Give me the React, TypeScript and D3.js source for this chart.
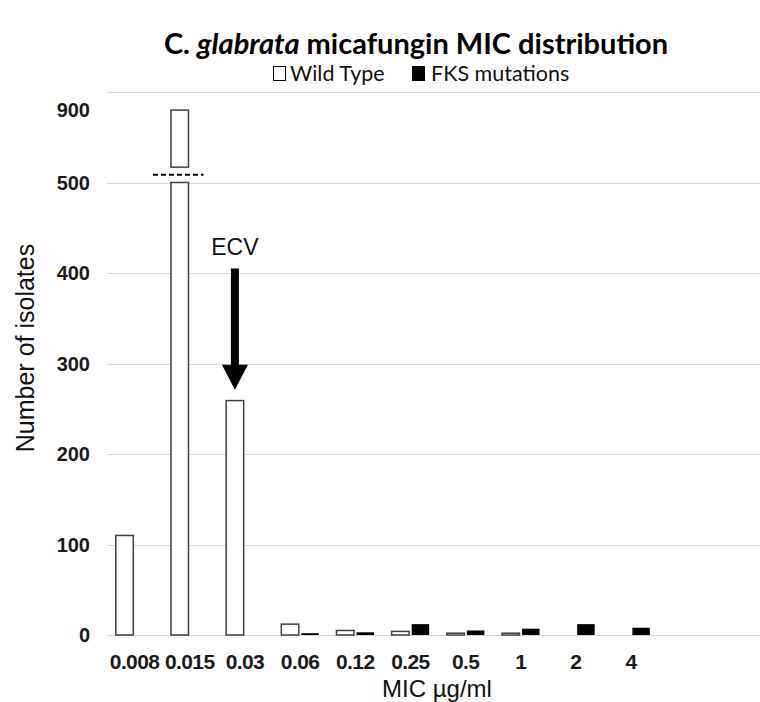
import React, { useEffect, useRef } from 'react';
import * as d3 from 'd3';

// MIC categories (µg/ml); two empty slots at the end like the original sheet
const micLabels = ['0.008', '0.015', '0.03', '0.06', '0.12', '0.25', '0.5', '1', '2', '4', '', ' '];
const wildType = [110, 900, 259, 12, 5, 4, 2, 2, 0, 0, 0, 0];
const fksMutations = [0, 0, 0, 2, 3, 12, 5, 7, 12, 8, 0, 0];
const yTickValues = [0, 100, 200, 300, 400, 500, 900];
const gridValues = [0, 100, 200, 300, 400, 500, 600];

// broken axis: values between 500 and 837 are cut out
const breakLow = 500;
const breakHigh = 837;
const breakGap = 17;
const ecvCategory = '0.03';
const ecvArrowTop = 405;

const W = 760;
const H = 702;

const App = () => {
    const svgRef = useRef<SVGSVGElement>(null);

    useEffect(() => {
        document.body.style.margin = '0';
        const svg = d3.select(svgRef.current);
        svg.selectAll('*').remove();

        const margin = { top: 92, right: -9, bottom: 67, left: 107 };
        const plotBottom = H - margin.bottom;

        const disp = (v: number) => (v <= breakLow ? v : v - (breakHigh - breakLow) + breakGap);

        const y = d3.scaleLinear()
            .domain([0, 600])
            .range([plotBottom, margin.top]);

        const x0 = d3.scaleBand()
            .domain(micLabels)
            .range([margin.left, W - margin.right])
            .paddingInner(0)
            .paddingOuter(0);

        const x1 = d3.scaleBand()
            .domain(['wt', 'fks'])
            .range([0, x0.bandwidth()])
            .paddingInner(0.125)
            .paddingOuter(0.44);

        // gridlines
        svg.append('g')
            .selectAll('line')
            .data(gridValues)
            .enter()
            .append('line')
            .attr('x1', margin.left)
            .attr('x2', W)
            .attr('y1', d => Math.round(y(d)) + 0.5)
            .attr('y2', d => Math.round(y(d)) + 0.5)
            .attr('stroke', '#d9d9d9')
            .attr('stroke-width', 1);

        // y tick labels
        svg.append('g')
            .selectAll('text')
            .data(yTickValues)
            .enter()
            .append('text')
            .attr('x', 90)
            .attr('y', d => y(disp(d)))
            .attr('dy', '0.36em')
            .attr('text-anchor', 'end')
            .attr('font-family', 'Liberation Sans, Arial, sans-serif')
            .attr('font-weight', 'bold')
            .attr('font-size', 20)
            .attr('fill', '#1a1a1a')
            .text(d => d);

        const bars = svg.append('g');

        micLabels.forEach((cat, i) => {
            const wt = wildType[i];
            const fk = fksMutations[i];
            const xw = (x0(cat) ?? 0) + (x1('wt') ?? 0);
            const xf = (x0(cat) ?? 0) + (x1('fks') ?? 0);
            const bw = x1.bandwidth();

            if (wt > 0) {
                if (wt <= breakLow) {
                    bars.append('rect')
                        .attr('x', xw)
                        .attr('y', y(wt))
                        .attr('width', bw)
                        .attr('height', y(0) - y(wt))
                        .attr('fill', '#fff')
                        .attr('stroke', '#404040')
                        .attr('stroke-width', 1.5);
                } else {
                    // lower part up to the break
                    bars.append('rect')
                        .attr('x', xw)
                        .attr('y', y(breakLow))
                        .attr('width', bw)
                        .attr('height', y(0) - y(breakLow))
                        .attr('fill', '#fff')
                        .attr('stroke', '#404040')
                        .attr('stroke-width', 1.5);
                    // upper part past the break
                    bars.append('rect')
                        .attr('x', xw)
                        .attr('y', y(disp(wt)))
                        .attr('width', bw)
                        .attr('height', y(disp(breakHigh)) - y(disp(wt)))
                        .attr('fill', '#fff')
                        .attr('stroke', '#404040')
                        .attr('stroke-width', 1.5);
                    // dashed break marker
                    const ym = y(breakLow + breakGap / 2);
                    bars.append('line')
                        .attr('x1', xw - 18)
                        .attr('x2', xw + bw + 15)
                        .attr('y1', ym)
                        .attr('y2', ym)
                        .attr('stroke', '#000')
                        .attr('stroke-width', 2)
                        .attr('stroke-dasharray', '5,3');
                }
            }
            if (fk > 0) {
                bars.append('rect')
                    .attr('x', xf)
                    .attr('y', y(fk))
                    .attr('width', bw)
                    .attr('height', y(0) - y(fk))
                    .attr('fill', '#000');
            }
        });

        // x tick labels
        svg.append('g')
            .selectAll('text')
            .data(micLabels.filter(d => d.trim() !== ''))
            .enter()
            .append('text')
            .attr('x', d => (x0(d) ?? 0) + x0.bandwidth() / 2)
            .attr('y', 669)
            .attr('text-anchor', 'middle')
            .attr('font-family', 'Liberation Sans, Arial, sans-serif')
            .attr('font-weight', 'bold')
            .attr('font-size', 21)
            .attr('letter-spacing', -0.6)
            .attr('fill', '#1a1a1a')
            .text(d => d);

        // ECV arrow
        const ecvIdx = micLabels.indexOf(ecvCategory);
        const ax = (x0(ecvCategory) ?? 0) + (x1('wt') ?? 0) + x1.bandwidth() / 2;
        const tipY = y(wildType[ecvIdx] + 12);
        const headLen = 25;
        const shaftW = 8;
        const headW = 26;
        const arrow = d3.path();
        arrow.moveTo(ax - shaftW / 2, y(ecvArrowTop));
        arrow.lineTo(ax + shaftW / 2, y(ecvArrowTop));
        arrow.lineTo(ax + shaftW / 2, tipY - headLen);
        arrow.lineTo(ax + headW / 2, tipY - headLen);
        arrow.lineTo(ax, tipY);
        arrow.lineTo(ax - headW / 2, tipY - headLen);
        arrow.lineTo(ax - shaftW / 2, tipY - headLen);
        arrow.closePath();
        svg.append('path').attr('d', arrow.toString()).attr('fill', '#000');

        svg.append('text')
            .attr('x', ax)
            .attr('y', y(ecvArrowTop) - 13)
            .attr('text-anchor', 'middle')
            .attr('font-family', 'Liberation Sans, Arial, sans-serif')
            .attr('font-size', 23)
            .attr('fill', '#111')
            .text('ECV');

        // axis titles
        svg.append('text')
            .attr('transform', 'translate(34,348) rotate(-90)')
            .attr('text-anchor', 'middle')
            .attr('font-family', 'Liberation Sans, Arial, sans-serif')
            .attr('font-size', 25)
            .attr('fill', '#111')
            .text('Number of isolates');

        svg.append('text')
            .attr('x', 437)
            .attr('y', 697)
            .attr('text-anchor', 'middle')
            .attr('font-family', 'Liberation Sans, Arial, sans-serif')
            .attr('font-size', 24)
            .attr('fill', '#111')
            .text('MIC µg/ml');

        // title
        const title = svg.append('text')
            .attr('x', 416)
            .attr('y', 54)
            .attr('text-anchor', 'middle')
            .attr('font-family', 'Lato, Open Sans, sans-serif')
            .attr('font-weight', 'bold')
            .attr('font-size', 29)
            .attr('fill', '#000');
        title.append('tspan').text('C. ');
        title.append('tspan').attr('font-style', 'italic').text('glabrata');
        title.append('tspan').text(' micafungin MIC distribution');

        // legend
        const legend = svg.append('g').attr('font-family', 'Lato, Open Sans, sans-serif').attr('font-size', 21.5);
        legend.append('rect').attr('x', 273.5).attr('y', 66.5).attr('width', 12).attr('height', 14)
            .attr('fill', '#fff').attr('stroke', '#000').attr('stroke-width', 1);
        legend.append('text').attr('x', 290).attr('y', 81).attr('fill', '#111').text('Wild Type');
        legend.append('rect').attr('x', 412).attr('y', 66).attr('width', 13).attr('height', 15).attr('fill', '#000');
        legend.append('text').attr('x', 431).attr('y', 81).attr('fill', '#111').text('FKS mutations');
    }, []);

    return <svg ref={svgRef} width={W} height={H} style={{ display: 'block', background: '#fff' }} />;
};

export default App;
